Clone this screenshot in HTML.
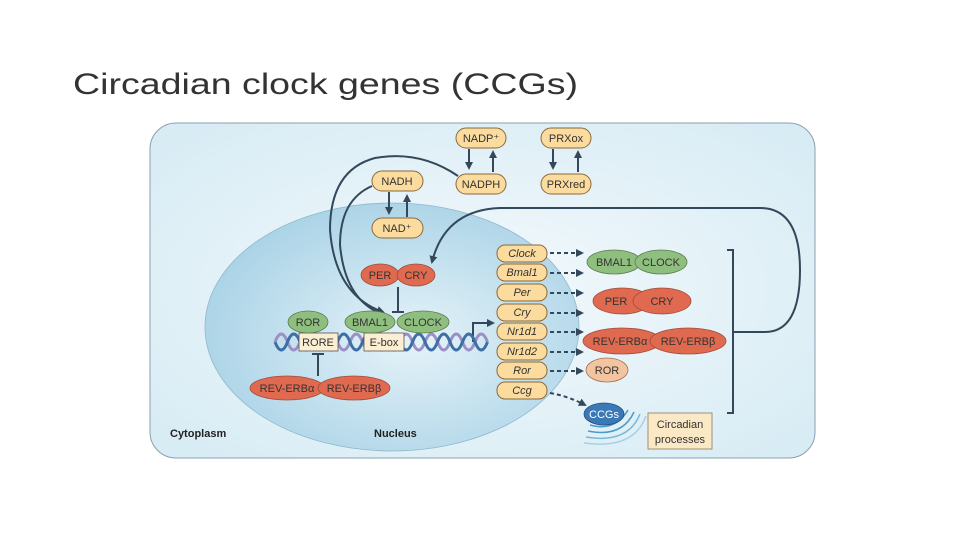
<!DOCTYPE html>
<html><head><meta charset="utf-8"><style>
html,body{margin:0;padding:0;background:#fff;}
svg{display:block;}
text{font-family:"Liberation Sans",sans-serif;}
</style></head><body>
<svg width="960" height="540" viewBox="0 0 960 540" xmlns="http://www.w3.org/2000/svg">
<defs>
<radialGradient id="cell" cx="0.5" cy="0.5" r="0.7"><stop offset="0" stop-color="#f3f9fc"/><stop offset="1" stop-color="#d6ebf4"/></radialGradient>
<radialGradient id="nuc" cx="0.55" cy="0.55" r="0.6"><stop offset="0" stop-color="#e6f3f9"/><stop offset="1" stop-color="#a8d2e6"/></radialGradient>
<marker id="ah" markerWidth="8" markerHeight="8" refX="6" refY="4" orient="auto" markerUnits="userSpaceOnUse"><path d="M0,0 L8,4 L0,8 z" fill="#33485a"/></marker>
</defs>
<text x="73" y="94" font-size="30" fill="#333" textLength="505" lengthAdjust="spacingAndGlyphs">Circadian clock genes (CCGs)</text>
<rect x="150" y="123" width="665" height="335" rx="26" fill="url(#cell)" stroke="#8aa0ad" stroke-width="1"/>
<ellipse cx="392" cy="327" rx="187" ry="124" fill="url(#nuc)" stroke="#8fb8cc" stroke-width="0.8"/>

<g stroke="#33485a" stroke-width="2" fill="none">
<path d="M733 332 H765 Q800 332 800 270 Q800 208 760 208 H500 Q445 210 432 262" marker-end="url(#ah)"/>
<path d="M458 176 Q420 150 375 158 Q330 170 330 230 Q335 295 383 312" marker-end="url(#ah)"/>
<path d="M372 186 Q340 200 340 245 Q345 300 382 314"/>
<path d="M727 250 H733 V413 H727"/>
<path d="M469 149 V168" marker-end="url(#ah)"/><path d="M493 172 V152" marker-end="url(#ah)"/>
<path d="M553 149 V168" marker-end="url(#ah)"/><path d="M578 172 V152" marker-end="url(#ah)"/>
<path d="M389 192 V213" marker-end="url(#ah)"/><path d="M407 217 V196" marker-end="url(#ah)"/>
<path d="M398 287 V312 M392 312 H404"/>
<path d="M318 376 V354 M312 354 H324"/>
<path d="M473 342 V323 H493" marker-end="url(#ah)"/>
</g>
<g stroke="#33485a" stroke-width="2" fill="none" stroke-dasharray="4,3">
<path d="M550 253 H582" marker-end="url(#ah)"/>
<path d="M550 273 H582" marker-end="url(#ah)"/>
<path d="M550 293 H582" marker-end="url(#ah)"/>
<path d="M550 313 H582" marker-end="url(#ah)"/>
<path d="M550 332 H582" marker-end="url(#ah)"/>
<path d="M550 352 H582" marker-end="url(#ah)"/>
<path d="M550 371 H582" marker-end="url(#ah)"/>
<path d="M550 393 Q568 396 585 405" marker-end="url(#ah)"/>
</g>

<g fill="none" stroke-width="3">
<path d="M275 342 q6.25 -16 12.5 0 t12.5 0 t12.5 0 t12.5 0 t12.5 0 t12.5 0 t12.5 0 t12.5 0 t12.5 0 t12.5 0 t12.5 0 t12.5 0 t12.5 0 t12.5 0 t12.5 0 t12.5 0 t12.5 0" stroke="#9a90c4"/>
<path d="M275 342 q6.25 16 12.5 0 t12.5 0 t12.5 0 t12.5 0 t12.5 0 t12.5 0 t12.5 0 t12.5 0 t12.5 0 t12.5 0 t12.5 0 t12.5 0 t12.5 0 t12.5 0 t12.5 0 t12.5 0 t12.5 0" stroke="#3e6ea6"/>
</g>
<g stroke="#555" stroke-width="0.8">
<rect x="299" y="333" width="39" height="18" fill="#fbeed2"/>
<rect x="364" y="333" width="40" height="18" fill="#fbeed2"/>
</g>
<g font-size="11" fill="#333" text-anchor="middle">
<text x="318" y="346">RORE</text><text x="384" y="346">E-box</text>
</g>

<g stroke="#8a6a3a" stroke-width="1" fill="#fbdb9e">
<rect x="456" y="128" width="50" height="20" rx="10"/>
<rect x="541" y="128" width="50" height="20" rx="10"/>
<rect x="456" y="174" width="50" height="20" rx="10"/>
<rect x="541" y="174" width="50" height="20" rx="10"/>
<rect x="372" y="171" width="51" height="20" rx="10"/>
<rect x="372" y="218" width="51" height="20" rx="10"/>
<rect x="497" y="245" width="50" height="17" rx="8"/>
<rect x="497" y="264" width="50" height="17" rx="8"/>
<rect x="497" y="284" width="50" height="17" rx="8"/>
<rect x="497" y="304" width="50" height="17" rx="8"/>
<rect x="497" y="323" width="50" height="17" rx="8"/>
<rect x="497" y="343" width="50" height="17" rx="8"/>
<rect x="497" y="362" width="50" height="17" rx="8"/>
<rect x="497" y="382" width="50" height="17" rx="8"/>
</g>
<g font-size="11" fill="#333" text-anchor="middle">
<text x="481" y="142">NADP⁺</text><text x="566" y="142">PRXox</text>
<text x="481" y="188">NADPH</text><text x="566" y="188">PRXred</text>
<text x="397" y="185">NADH</text><text x="397" y="232">NAD⁺</text>
</g>
<g font-size="11" fill="#333" text-anchor="middle" font-style="italic">
<text x="522" y="257">Clock</text><text x="522" y="276">Bmal1</text><text x="522" y="296">Per</text>
<text x="522" y="316">Cry</text><text x="522" y="335">Nr1d1</text><text x="522" y="355">Nr1d2</text>
<text x="522" y="374">Ror</text><text x="522" y="394">Ccg</text>
</g>

<g stroke="#5a7a50" stroke-width="0.8" fill="#8fbf7f">
<ellipse cx="308" cy="322" rx="20" ry="11"/><ellipse cx="370" cy="322" rx="25" ry="11"/><ellipse cx="423" cy="322" rx="26" ry="11"/>
<ellipse cx="614" cy="262" rx="27" ry="12"/><ellipse cx="661" cy="262" rx="26" ry="12"/>
</g>
<g stroke="#a04a3a" stroke-width="0.8" fill="#e06a50">
<ellipse cx="380" cy="275" rx="19" ry="11"/><ellipse cx="416" cy="275" rx="19" ry="11"/>
<ellipse cx="287" cy="388" rx="37" ry="12"/><ellipse cx="354" cy="388" rx="36" ry="12"/>
<ellipse cx="622" cy="301" rx="29" ry="13"/><ellipse cx="662" cy="301" rx="29" ry="13"/>
<ellipse cx="622" cy="341" rx="39" ry="13"/><ellipse cx="688" cy="341" rx="38" ry="13"/>
</g>
<ellipse cx="607" cy="370" rx="21" ry="12" fill="#f2c4a0" stroke="#a07050" stroke-width="0.8"/>
<g fill="none" stroke="#4a9ac8" stroke-width="1.5">
<path d="M590 425 Q615 432 628 410"/><path d="M588 431 Q622 438 634 412"/>
<path d="M586 437 Q628 444 640 414" stroke="#7ab8d8"/><path d="M584 443 Q634 450 646 416" stroke="#a8d0e4"/>
</g>
<ellipse cx="604" cy="414" rx="20" ry="11" fill="#3a78b8" stroke="#24507a" stroke-width="0.8"/>
<rect x="648" y="413" width="64" height="36" fill="#fbe8c4" stroke="#8a7a5a" stroke-width="0.8"/>
<g font-size="11" fill="#333" text-anchor="middle">
<text x="308" y="326">ROR</text><text x="370" y="326">BMAL1</text><text x="423" y="326">CLOCK</text>
<text x="614" y="266">BMAL1</text><text x="661" y="266">CLOCK</text>
<text x="380" y="279">PER</text><text x="416" y="279">CRY</text>
<text x="287" y="392">REV-ERBα</text><text x="354" y="392">REV-ERBβ</text>
<text x="616" y="305">PER</text><text x="662" y="305">CRY</text>
<text x="620" y="345">REV-ERBα</text><text x="688" y="345">REV-ERBβ</text>
<text x="607" y="374">ROR</text>
<text x="604" y="418" fill="#fff">CCGs</text>
<text x="680" y="428">Circadian</text><text x="680" y="443">processes</text>
</g>
<g font-size="11" font-weight="bold" fill="#222">
<text x="170" y="437">Cytoplasm</text><text x="374" y="437">Nucleus</text>
</g>
</svg>
</body></html>
